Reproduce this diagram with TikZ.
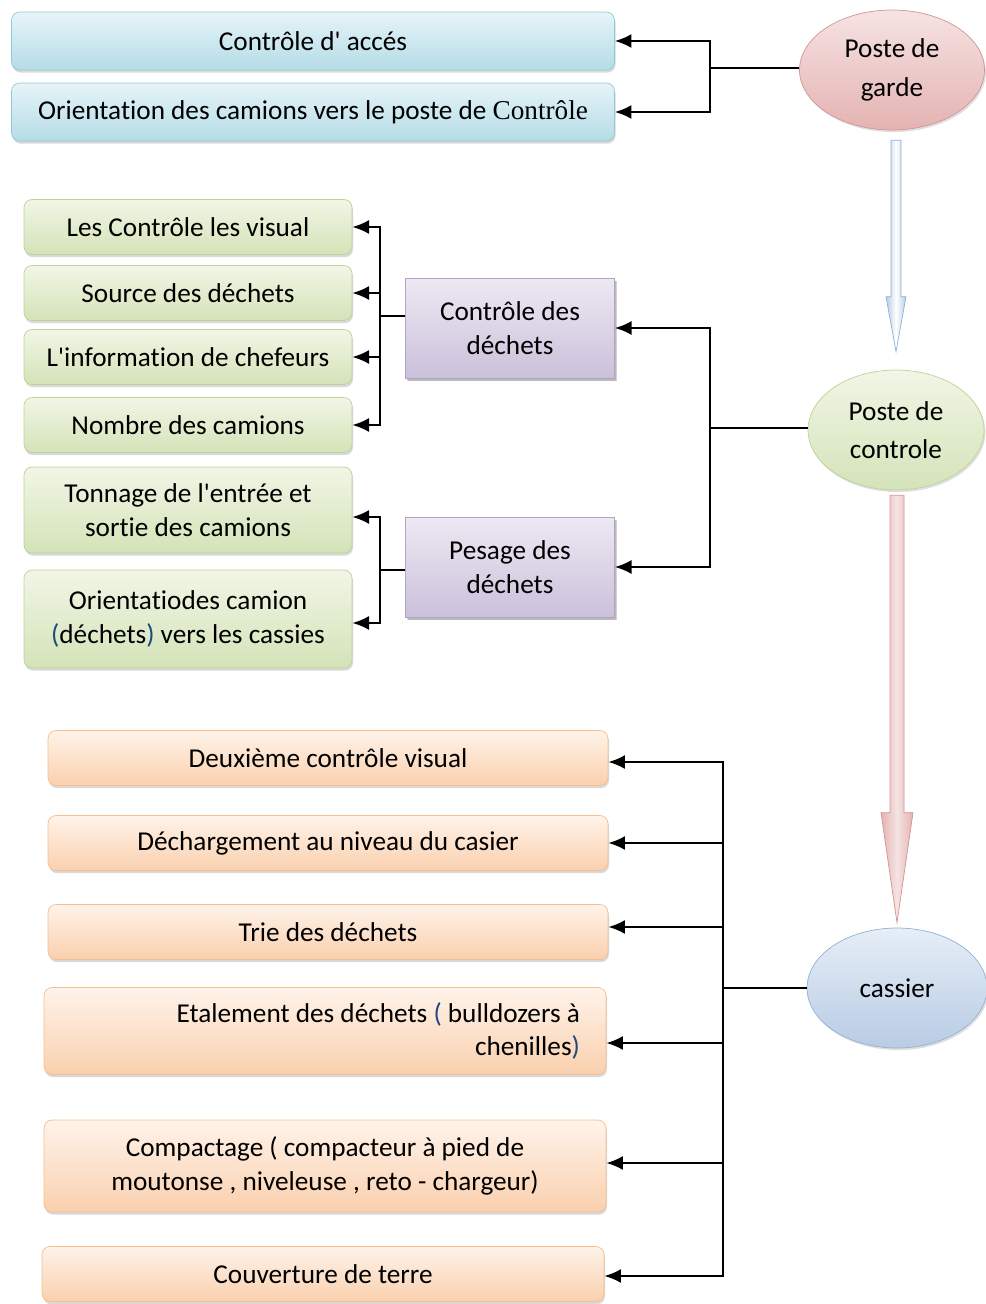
\documentclass[tikz,border=0pt]{standalone}
\usepackage{fontspec}
\setmainfont{Carlito}[Ligatures={TeXOff,CommonOff}]
\newfontfamily\serifc{Liberation Serif}
\usepackage{tikz}
\usetikzlibrary{arrows.meta,shapes.geometric,shadows,calc}

\definecolor{accline}{HTML}{8FCAD9}
\definecolor{acctop}{HTML}{E6F4F8}
\definecolor{accbot}{HTML}{B5DCE7}
\definecolor{dechline}{HTML}{BDD297}
\definecolor{dechtop}{HTML}{F1F6E6}
\definecolor{dechbot}{HTML}{D4E3B8}
\definecolor{opline}{HTML}{B2A3C8}
\definecolor{optop}{HTML}{EDE9F3}
\definecolor{opbot}{HTML}{CBC0DB}
\definecolor{casline}{HTML}{F6BE8E}
\definecolor{castop}{HTML}{FFF3EA}
\definecolor{casbot}{HTML}{FAD0AE}
\definecolor{gardeline}{HTML}{D49592}
\definecolor{gardetop}{HTML}{F6E3E3}
\definecolor{gardebot}{HTML}{E4B3B2}
\definecolor{ctrlline}{HTML}{BDD297}
\definecolor{ctrltop}{HTML}{F1F6E6}
\definecolor{ctrlbot}{HTML}{D4E3B8}
\definecolor{cassline}{HTML}{93B1D5}
\definecolor{casstop}{HTML}{E6EEF7}
\definecolor{cassbot}{HTML}{B8CCE4}
\definecolor{parblue}{HTML}{1F497D}

\begin{document}
\begin{tikzpicture}[
    x=0.02cm, y=-0.02cm,
    >={Latex[length=9.5pt,width=8pt]},
    font=\fontsize{15.5}{19}\selectfont,
    block/.style={
		rectangle,
		rounded corners=0.16cm,
		draw=#1line,
		top color=#1top,
		bottom color=#1bot,
		align=center,
		inner sep=0pt,
		drop shadow={opacity=0.3, shadow xshift=0.6pt, shadow yshift=-1.5pt}
	},
	accbox/.style={block=acc, minimum width=12.06cm, minimum height=1.16cm},
	dechbox/.style={block=dech, minimum width=6.56cm, minimum height=1.1cm},
	casbox/.style={block=cas, minimum width=11.2cm, minimum height=1.1cm},
	opbox/.style={
		block=op,
		sharp corners,
		minimum width=4.18cm,
		minimum height=2cm,
		drop shadow={opacity=0.35, shadow xshift=1.5pt, shadow yshift=-1.5pt}
	},
	poste/.style={
		ellipse,
		draw=#1line,
		top color=#1top,
		bottom color=#1bot,
		align=center,
		inner sep=0pt,
		minimum height=2.4cm,
		font=\fontsize{15.5}{22}\selectfont,
		drop shadow={opacity=0.25, shadow xshift=0.8pt, shadow yshift=-1.2pt}
	},
	trunk/.style={line width=1pt},
	link/.style={line width=1.2pt, ->}
  ]
  \useasboundingbox (0,0) rectangle (985,1304);

    % We start by placing the blocks
  \node [poste=garde, minimum width=3.7cm] (garde) at (892,70) {Poste de\\garde};
  \node [poste=ctrl, minimum width=3.52cm] (controle) at (896,430) {Poste de\\controle};
  \node [poste=cass, minimum width=3.6cm] (cassier) at (897,988) {cassier};

  \node [accbox] (acces) at (313,41) {Contrôle d' accés};
  \node [accbox] (orient) at (313,112) {Orientation des camions vers le poste de {\serifc Contrôle}};

  \node [opbox] (cd) at (510,328) {Contrôle des\\déchets};
  \node [opbox] (pd) at (510,567) {Pesage des\\déchets};

  \node [dechbox] (visuel) at (188,227) {Les Contrôle les visual};
  \node [dechbox] (source) at (188,293) {Source des déchets};
  \node [dechbox] (info) at (188,357) {L'information de chefeurs};
  \node [dechbox] (nombre) at (188,425) {Nombre des camions};
  \node [dechbox, minimum height=1.72cm] (tonnage) at (188,510)
   {Tonnage de l'entrée et\\sortie des camions};
  \node [dechbox, minimum height=1.96cm] (camion) at (188,619)
   {Orientatiodes camion\\\textcolor{parblue}{(}déchets\textcolor{parblue}{)} vers les cassies};

  \node [casbox] (visuel2) at (328,758) {Deuxième contrôle visual};
  \node [casbox] (decharge) at (328,843) {Déchargement au niveau du casier};
  \node [casbox] (trie) at (328,932) {Trie des déchets};
  \node [casbox, minimum width=0pt, minimum height=1.74cm, text width=10.2cm,
   inner xsep=0.52cm, align=flush right] (etale) at (325,1031)
   {Etalement des déchets \textcolor{parblue}{(} bulldozers à\\chenilles\textcolor{parblue}{)}};
  \node [casbox, minimum width=11.24cm, minimum height=1.84cm] (compact) at (325,1166)
   {Compactage ( compacteur à pied de\\moutonse , niveleuse , reto - chargeur)};
  \node [casbox, minimum width=11.24cm] (terre) at (323,1274) {Couverture de terre};

  % junctions
  \coordinate (jg) at (710,68);
  \coordinate (jc) at (710,428);
  \coordinate (jd) at (380,316);
  \coordinate (jp) at (380,570);
  \coordinate (jk) at (723,988);

  \draw [trunk] (jg -| garde.west) -- (jg);
  \draw [link] (jg) |- (acces.east);
  \draw [link] (jg) |- (orient.east);

  \draw [trunk] (jc -| controle.west) -- (jc);
  \draw [link] (jc) |- (cd.east);
  \draw [link] (jc) |- (pd.east);

  \draw [trunk] (jd -| cd.west) -- (jd);
  \draw [link] (jd) |- (visuel.east);
  \draw [link] (jd) |- (source.east);
  \draw [link] (jd) |- (info.east);
  \draw [link] (jd) |- (nombre.east);

  \draw [trunk] (jp -| pd.west) -- (jp);
  \draw [link] (jp) |- ([yshift=-0.14cm]tonnage.east);
  \draw [link] (jp) |- ([yshift=-0.08cm]camion.east);

  \draw [trunk] (cassier) -- (jk);
  \draw [link] (jk) |- ([yshift=-0.08cm]visuel2.east);
  \draw [link] (jk) |- (decharge.east);
  \draw [link] (jk) |- ([yshift=0.1cm]trie.east);
  \draw [link] (jk) |- ([yshift=-0.24cm]etale.east);
  \draw [link] (jk) |- ([yshift=0.06cm]compact.east);
  \draw [link] (jk) |- ([yshift=-0.04cm]terre.east);

  % big arrows between the posts
  \coordinate (ga) at ($(garde.south)+(4,10)$);
  \coordinate (gb) at ($(controle.north)+(0,-18)$);
  \draw [draw=cassline, left color=cassbot, right color=cassbot, middle color=white]
   ($(ga)+(-5,0)$) -- ($(gb)+(-5,-55)$) -- ($(gb)+(-10,-55)$) -- (gb)
   -- ($(gb)+(10,-55)$) -- ($(gb)+(5,-55)$) -- ($(ga)+(5,0)$) -- cycle;

  \coordinate (ra) at ($(controle.south)+(1,5)$);
  \coordinate (rb) at ($(cassier.north)+(0,-5)$);
  \draw [draw=gardeline, left color=gardebot, right color=gardebot, middle color=gardetop]
   ($(ra)+(-7,0)$) -- ($(rb)+(-7,-110)$) -- ($(rb)+(-16,-110)$) -- (rb)
   -- ($(rb)+(16,-110)$) -- ($(rb)+(7,-110)$) -- ($(ra)+(7,0)$) -- cycle;

\end{tikzpicture}
\end{document}
